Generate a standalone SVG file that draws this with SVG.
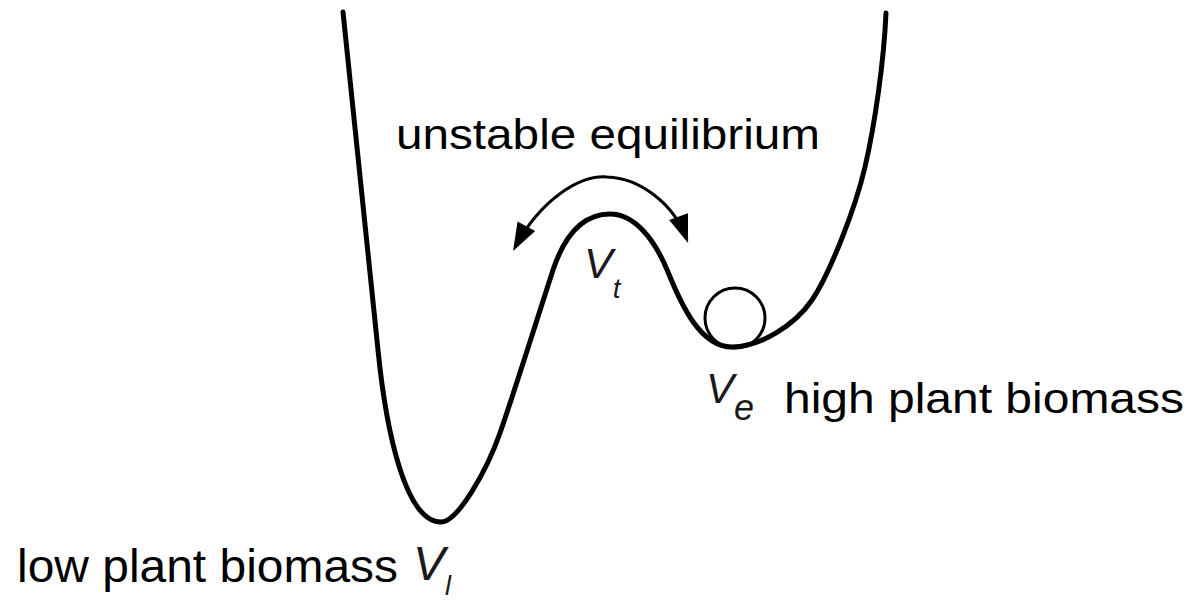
<svg xmlns="http://www.w3.org/2000/svg" width="1191" height="601" viewBox="0 0 1191 601">
  <style>
    .lbl { font-family: "Liberation Sans", Arial, sans-serif; fill: #000; }
    .sym { font-family: "Liberation Sans", Arial, sans-serif; font-style: italic; fill: #1a1a1a; }
    .curve { fill: none; stroke: #000; stroke-width: 5; stroke-linecap: round; stroke-linejoin: round; }
    .arc { fill: none; stroke: #000; stroke-width: 3; }
  </style>
  <defs>
    <marker id="head" viewBox="-26 -12 32 24" refX="0" refY="0" markerWidth="32" markerHeight="24" markerUnits="userSpaceOnUse" orient="auto-start-reverse">
      <path d="M4,0 L-24,-10 L-24,10 z" fill="#000"/>
    </marker>
  </defs>
  <rect width="1191" height="601" fill="#fff"/>

  <g id="potential-curve">
    <path class="curve" d="M343,12 L378,350 C386,430 405,522 441,522 C458,522 487,470 500,433 C513,396 540,310 553,270 C563,240 580,214 610,214 C635,214 655,240 668,272 C681,304 700,347 732,347 C760,347 795,325 812,300 C829,275 855,210 865,167 C875,124 884,60 886,13"/>
  </g>

  <g id="ball">
    <circle cx="735" cy="318" r="30" fill="none" stroke="#000" stroke-width="3"/>
  </g>

  <g id="connectors">
    <path class="arc" d="M515,247.5 C541,199 580,175 607,177 C640,178 674,204 686.7,239.2" marker-start="url(#head)" marker-end="url(#head)"/>
  </g>

  <g id="label-unstable">
    <text class="lbl" x="396" y="149" font-size="43" textLength="424" lengthAdjust="spacingAndGlyphs">unstable equilibrium</text>
    <text class="sym" x="584" y="278" font-size="43">V<tspan dy="20" font-size="28">t</tspan></text>
  </g>

  <g id="label-high">
    <text class="sym" x="706" y="403" font-size="42">V<tspan dy="17" font-size="36">e</tspan></text>
    <text class="lbl" x="784" y="413" font-size="42" textLength="400" lengthAdjust="spacingAndGlyphs">high plant biomass</text>
  </g>

  <g id="label-low">
    <text class="lbl" x="17" y="582" font-size="46" textLength="381" lengthAdjust="spacingAndGlyphs">low plant biomass</text>
    <text class="sym" x="413" y="580" font-size="48">V<tspan dy="15" font-size="27">l</tspan></text>
  </g>
</svg>
